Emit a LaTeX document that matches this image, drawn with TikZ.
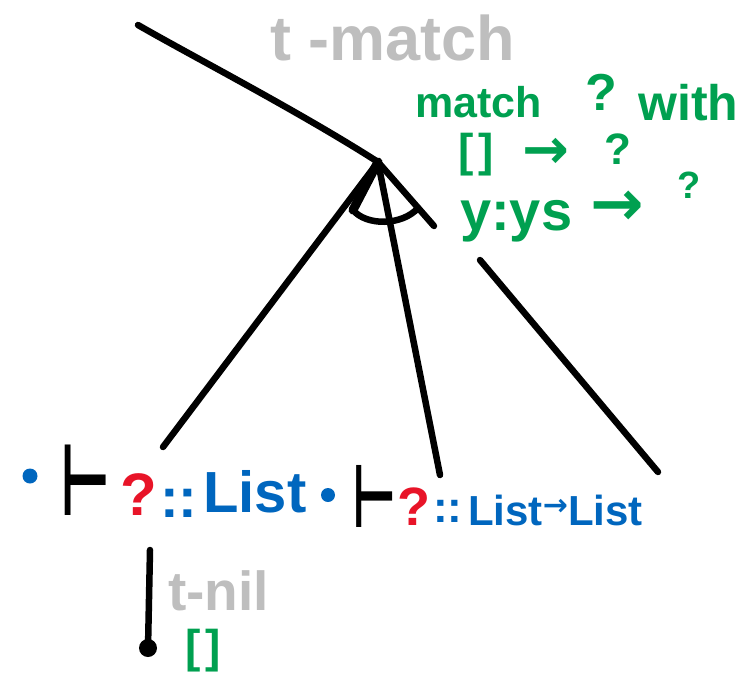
\documentclass[tikz,border=0pt]{standalone}
\usepackage{fontspec}
\usepackage{graphicx}
\setmainfont{Liberation Sans}
\newfontfamily\symfont{DejaVu Sans}
\usepackage{xcolor}
\definecolor{rulegray}{RGB}{190,190,190}
\definecolor{codegreen}{RGB}{0,160,80}
\definecolor{typblue}{RGB}{0,102,190}
\definecolor{holered}{RGB}{232,20,40}
\newcommand{\sz}[1]{\fontsize{#1}{#1}\selectfont}

\begin{document}
\begin{tikzpicture}[
  x=1pt, y=-1pt,
  stroke/.style={line width=6.5pt, line cap=round, line join=round},
  rulelbl/.style={text=rulegray, anchor=base west, inner sep=0pt},
  code/.style={text=codegreen, anchor=base west, inner sep=0pt},
  ty/.style={text=typblue, anchor=base west, inner sep=0pt},
  hole/.style={text=holered, anchor=base west, inner sep=0pt},
  turn/.style={anchor=base west, inner sep=0pt},
  bullet/.style={circle, fill=typblue, inner sep=0pt, minimum size=#1}
]
\useasboundingbox (0,0) rectangle (745,675);

\coordinate (topend) at (138,25);
\coordinate (apex) at (378,162);
\coordinate (lfoot) at (163,447);
\coordinate (mfoot) at (440,475);
\coordinate (arcl) at (353,210);
\coordinate (arcr) at (418,208);
\coordinate (rarm) at (434,226);
\coordinate (rtop) at (480,260);
\coordinate (rfoot) at (658,472);
\coordinate (nilt) at (150,550);

\draw[stroke] (topend) .. controls (190,55) and (300,112) .. (apex);
\draw[stroke] (apex) -- (lfoot);
\draw[stroke, line width=9pt] (apex) -- (arcl);
\draw[stroke] (apex) -- (mfoot);
\draw[stroke] (apex) -- (rarm);
\draw[stroke] (arcl) .. controls (366,226) and (402,226) .. (arcr);
\draw[stroke] (rtop) -- (rfoot);

\node[rulelbl, font=\bfseries\sz{63}] (tmatch) at (270,60) {t -match};
\node[code, font=\bfseries\sz{43}] (kwmatch) at (415,117) {match};
\node[code, font=\bfseries\sz{52}] (scrut) at (585,110) {?};
\node[code, font=\bfseries\sz{50}] (kwwith) at (638,120) {with};
\node[code, font=\bfseries\sz{46}] (patnil) at (458,166) {[\hspace{5pt}]};
\node[code, font=\symfont\bfseries\sz{56}] (arrnil) at (522,168) {→};
\node[code, font=\bfseries\sz{44}] (rhsnil) at (604,164) {?};
\node[code, font=\bfseries\sz{56}] (patcons) at (460,230) {y:ys};
\node[code, font=\symfont\bfseries\sz{64}] (arrcons) at (590,225) {→};
\node[code, font=\bfseries\sz{38}] (rhscons) at (677,198) {?};

\node[bullet=15] (dotl) at (30,476) {};
\node[turn, font=\symfont\bfseries\sz{100}] (turnl) at (60,515) {\scalebox{0.55}[1]{⊢}};
\node[hole, font=\bfseries\sz{60}] (holel) at (120,515) {?};
\node[ty, font=\bfseries\sz{56}] (coll) at (160,517) {::};
\node[ty, font=\bfseries\sz{58}] (tyl) at (203,512) {List};

\node[bullet=14] (dotr) at (328,495) {};
\node[turn, font=\symfont\bfseries\sz{88}] (turnr) at (352,527) {\scalebox{0.55}[1]{⊢}};
\node[hole, font=\bfseries\sz{54}] (holer) at (397,525) {?};
\node[ty, font=\bfseries\sz{44}] (colr) at (433,522) {::};
\node[ty, font=\bfseries\sz{42}] (tyr) at (468,525)
  {List\raisebox{10pt}{\symfont\sz{30}→}List};

\node[circle, fill, inner sep=0pt, minimum size=18pt] (nildot) at (148,648) {};
\draw[stroke] (nilt) -- (nildot.center);
\node[rulelbl, font=\bfseries\sz{55}] (tnil) at (168,610) {t-nil};
\node[code, font=\bfseries\sz{46}] (nilterm) at (185,662) {[\hspace{5pt}]};
\end{tikzpicture}
\end{document}
